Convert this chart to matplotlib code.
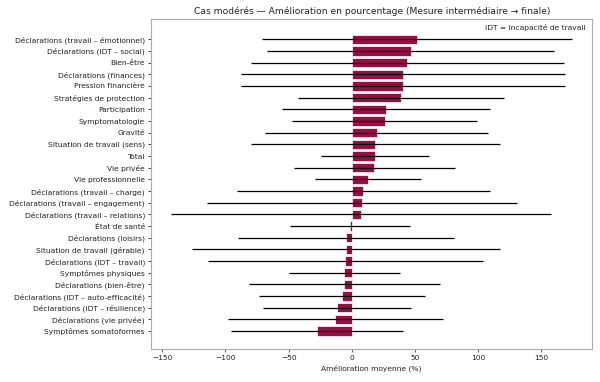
import matplotlib
matplotlib.use("Agg")
import matplotlib.pyplot as plt
import numpy as np

categories = [
    "Déclarations (travail – émotionnel)",
    "Déclarations (IDT – social)",
    "Bien-être",
    "Déclarations (finances)",
    "Pression financière",
    "Stratégies de protection",
    "Participation",
    "Symptomatologie",
    "Gravité",
    "Situation de travail (sens)",
    "Total",
    "Vie privée",
    "Vie professionnelle",
    "Déclarations (travail – charge)",
    "Déclarations (travail – engagement)",
    "Déclarations (travail – relations)",
    "État de santé",
    "Déclarations (loisirs)",
    "Situation de travail (gérable)",
    "Déclarations (IDT – travail)",
    "Symptômes physiques",
    "Déclarations (bien-être)",
    "Déclarations (IDT – auto-efficacité)",
    "Déclarations (IDT – résilience)",
    "Déclarations (vie privée)",
    "Symptômes somatoformes",
]
means = [51.5, 46.6, 43.8, 40.3, 40.2, 38.8, 27.2, 26.2, 19.6, 18.7, 18.3, 17.9,
         13.0, 9.2, 8.3, 7.5, -1.6, -4.5, -4.7, -5.0, -5.9, -5.8, -7.6, -11.6,
         -12.9, -27.8]
errors = [122.8, 113.3, 123.7, 128.0, 128.2, 81.2, 82.5, 73.2, 88.1, 98.7, 42.9,
          63.4, 41.9, 100.2, 122.6, 150.3, 47.5, 85.2, 122.0, 108.6, 44.0, 75.6,
          65.5, 58.3, 84.9, 68.0]

fig = plt.figure(figsize=(6.0, 3.82), dpi=100)
ax = fig.add_axes([0.252, 0.086, 0.735, 0.863])

y = np.arange(len(categories))
ax.barh(y, means, height=0.8, color="#990f45", edgecolor="white", linewidth=0.5,
        zorder=2)
ax.errorbar(means, y, xerr=errors, fmt="none", ecolor="black", elinewidth=0.9,
            capsize=0, zorder=3)
ax.set_yticks(y)
ax.set_yticklabels(categories, fontsize=5.4, color="#222222")
ax.set_ylim(len(categories) - 1 + 1.55, -1.7)
ax.tick_params(axis="x", labelsize=5.4, colors="#222222", length=2.1, width=0.5,
               pad=2.4)
ax.tick_params(axis="y", length=2.1, width=0.5, pad=2.4)
ax.set_xlabel("Amélioration moyenne (%)", fontsize=5.4, color="#222222",
              labelpad=2.4)
ax.set_title("Cas modérés — Amélioration en pourcentage (Mesure intermédiaire → finale)",
             fontsize=6.6, color="#222222", pad=4)
for s in ax.spines.values():
    s.set_color("#aaaaaa")
    s.set_linewidth(0.8)
ax.text(0.985, 0.985, "IDT = Incapacité de travail", transform=ax.transAxes,
        ha="right", va="top", fontsize=5.4, color="#222222")

fig.savefig("out.png", dpi=100)
